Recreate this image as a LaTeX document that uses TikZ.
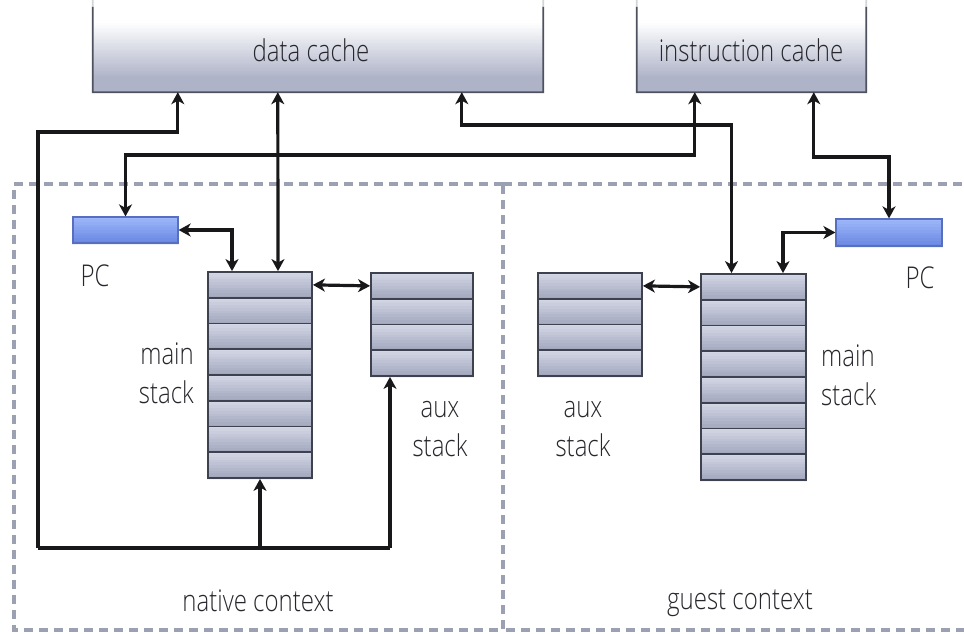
\documentclass[tikz,border=0pt]{standalone}
\usepackage{fontspec}
\setmainfont{Open Sans}[FakeStretch=0.8, UprightFont={* Light}]
\usetikzlibrary{arrows.meta,calc,backgrounds}

\definecolor{inkc}{RGB}{38,38,44}
\definecolor{wirec}{RGB}{24,24,26}
\definecolor{dashc}{RGB}{155,160,178}
\definecolor{cellTop}{RGB}{212,215,230}
\definecolor{cellBot}{RGB}{162,167,189}
\definecolor{cellEdge}{RGB}{62,66,78}
\definecolor{cacheTop}{RGB}{255,255,255}
\definecolor{cacheBot}{RGB}{174,179,200}
\definecolor{cacheEdge}{RGB}{78,82,94}
\definecolor{pcTop}{RGB}{158,183,250}
\definecolor{pcBot}{RGB}{106,136,226}
\definecolor{pcEdge}{RGB}{88,110,190}

% vertical colour ramp behind a node, built from thin horizontal strips
% #1 node, #2 top colour, #3 bottom colour, #4 number of strips,
% #5/#6 fractions of the height (from the top) where the ramp starts and ends
\newcommand\rampfill[6]{%
  \fill[#2] (#1.north west) rectangle ($(#1.north east)!#5!(#1.south east)$);
  \fill[#3] ($(#1.north west)!#6!(#1.south west)$) rectangle (#1.south east);
  \foreach \k in {1,...,#4} {
    \pgfmathtruncatemacro\pct{100*(\k-1)/(#4-1)}
    \fill[#3!\pct!#2]
      ($(#1.north west)!{#5+(#6-#5)*(\k-1)/#4}!(#1.south west)$) rectangle
      ($(#1.north east)!{min(1,#5+(#6-#5)*(\k/#4)+0.01)}!(#1.south east)$);
  }}

\tikzset{
  lbl/.style={font=\fontsize{30}{39}\selectfont, text=inkc, inner sep=0pt},
  cachebox/.style={rectangle, inner sep=0pt},
  cellbox/.style={rectangle, draw=cellEdge, line width=1.8pt, inner sep=0pt,
    minimum width=104pt, minimum height=25.75pt},
  pcbox/.style={rectangle, draw=pcEdge, line width=1.2pt, inner sep=0pt,
    minimum width=105pt, minimum height=26pt},
  ctxline/.style={draw=dashc, line width=3.4pt, dash pattern=on 9pt off 6pt},
  tip/.tip={Stealth[length=12pt,width=13pt,inset=3.5pt]},
  wire/.style={draw=wirec, line width=3.2pt, tip-tip},
  wireup/.style={draw=wirec, line width=3.2pt, -tip},
  bus/.style={draw=wirec, line width=3.2pt},
}

\begin{document}
\begin{tikzpicture}[x=1pt,y=-1pt]
\useasboundingbox (0,0) rectangle (964,634);
\clip (0,0) rectangle (964,634);

% context frames
\draw[ctxline] (503,184) -- (14,184) -- (14,630) -- (503,630) -- cycle;
\draw[ctxline] (503,184) -- (980,184) (980,630) -- (503,630);

% caches (their tops run past the upper edge)
\node[cachebox, minimum width=450pt, minimum height=100pt] (dc) at (318,42) {};
\node[cachebox, minimum width=229pt, minimum height=100pt] (ic) at (751.5,42) {};
\begin{pgfonlayer}{background}
  \rampfill{dc}{cacheTop}{cacheBot}{40}{0.3}{0.86}
  \rampfill{ic}{cacheTop}{cacheBot}{40}{0.3}{0.86}
\end{pgfonlayer}
\foreach \c in {dc,ic} {
  \draw[cacheEdge!25!white, line width=1.8pt] (\c.north west) -- ($(\c.north west)!0.15!(\c.south west)$);
  \draw[cacheEdge!25!white, line width=1.8pt] (\c.north east) -- ($(\c.north east)!0.15!(\c.south east)$);
  \draw[cacheEdge, line width=1.8pt] ($(\c.north west)!0.15!(\c.south west)$) -- (\c.south west)
    -- (\c.south east) -- ($(\c.north east)!0.15!(\c.south east)$);
}
\node[lbl] (dct) at (311,50) {data cache};
\node[lbl] (ict) at (751,50) {instruction cache};

% program counters
\node[pcbox] (npc) at (125.5,230) {};
\node[pcbox, minimum width=106pt, minimum height=27pt] (gpc) at (889,232.5) {};
\begin{pgfonlayer}{background}
  \rampfill{npc}{pcTop}{pcBot}{10}{0}{1}
  \rampfill{gpc}{pcTop}{pcBot}{10}{0}{1}
\end{pgfonlayer}
\node[lbl] (npct) at (95,276) {PC};
\node[lbl] (gpct) at (920,278) {PC};

% stacks
\foreach \i in {1,...,8} {
  \node[cellbox] (nm\i) at (260,{272+25.75*(\i-0.5)}) {};
  \node[cellbox, minimum width=105pt] (gm\i) at (753.5,{274+25.75*(\i-0.5)}) {};
  \begin{pgfonlayer}{background}
    \rampfill{nm\i}{cellTop}{cellBot}{10}{0}{1}
    \rampfill{gm\i}{cellTop}{cellBot}{10}{0}{1}
  \end{pgfonlayer}
}
\foreach \i in {1,...,4} {
  \node[cellbox, minimum width=102pt] (na\i) at (422,{273+25.75*(\i-0.5)}) {};
  \node[cellbox] (ga\i) at (590,{273+25.75*(\i-0.5)}) {};
  \begin{pgfonlayer}{background}
    \rampfill{na\i}{cellTop}{cellBot}{10}{0}{1}
    \rampfill{ga\i}{cellTop}{cellBot}{10}{0}{1}
  \end{pgfonlayer}
}

\node[lbl, align=right, anchor=east] (nmt) at (194,373) {main\\stack};
\node[lbl, align=center] (nat) at (440,429) {aux\\stack};
\node[lbl, align=center] (gat) at (583,429) {aux\\stack};
\node[lbl, align=left, anchor=west] (gmt) at (821,375) {main\\stack};

\node[lbl] (nct) at (258,601) {native context};
\node[lbl] (gct) at (740,603) {guest context};

% attachment points
\coordinate (dcA) at ($(dc.south west)+(85,0)$);
\coordinate (dcB) at ($(dc.south west)+(185,0)$);
\coordinate (dcC) at ($(dc.south west)+(369,0)$);
\coordinate (icA) at ($(ic.south west)+(58,0)$);
\coordinate (icB) at ($(ic.south west)+(177,0)$);
\coordinate (nmTopA) at ($(nm1.north)+(-28,0)$);
\coordinate (nmTopB) at ($(nm1.north)+(18,0)$);
\coordinate (gmTopA) at ($(gm1.north)+(-22,0)$);
\coordinate (gmTopB) at ($(gm1.north)+(29.5,0)$);
\coordinate (busL) at (38,548);
\coordinate (busR) at (390,548);

% native bus to the data cache and both stacks
\draw[wireup] (busL) -- (busL |- 0,132) -| (dcA);
\draw[bus] (busL) -- (busR);
\draw[wireup] (nm8.south |- busL) -- (nm8.south);
\draw[wireup] (busR) -- (busR |- na4.south);

% data cache links
\draw[wire] (dcB) -- (nmTopB);
\draw[wire] (dcC) -- (dcC |- 0,125) -| (gmTopA);

% instruction cache links
\draw[wire] (icA) -- (icA |- 0,155) -| (npc.north);
\draw[wire] (icB) -- (icB |- 0,157) -| (gpc.north);

% PC and stack links
\draw[wire] (npc.east) -| (nmTopA);
\draw[wire] (gpc.west) -| (gmTopB);
\draw[wire] (nm1.east) -- (na1.west);
\draw[wire] (ga1.east) -- (gm1.west);
\end{tikzpicture}
\end{document}
